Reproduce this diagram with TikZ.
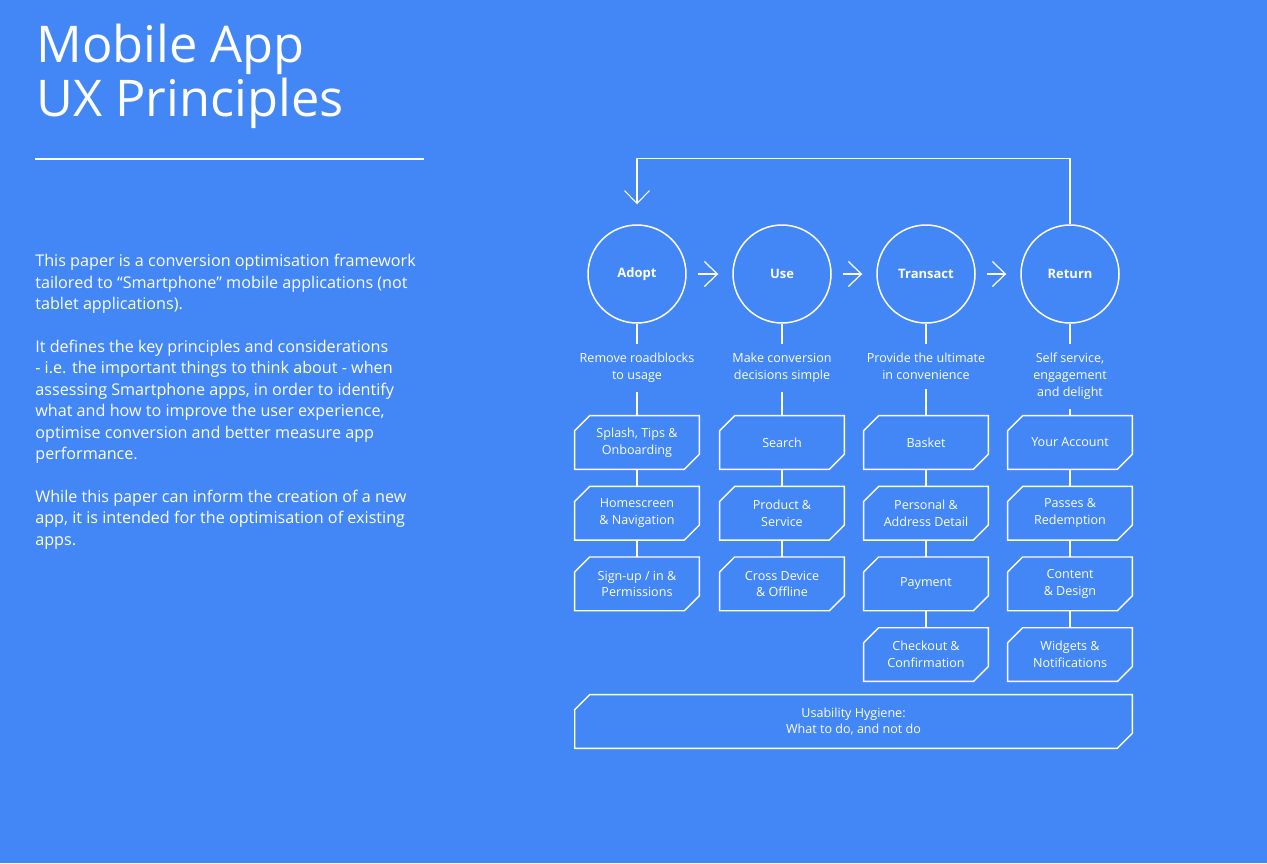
\documentclass[tikz,border=0pt]{standalone}
\usepackage{fontspec}
\setmainfont{Open Sans}
\usetikzlibrary{arrows.meta,positioning}
\definecolor{bgblue}{HTML}{4287F5}

\begin{document}
\begin{tikzpicture}[x=0.02cm,y=-0.02cm,>={Straight Barb[length=0.26cm,width=0.5cm]},
  every node/.style={text=white},
  phase/.style={circle,draw=white,line width=0.85pt,minimum size=1.96cm,inner sep=0pt,
    font=\fontsize{7.4}{9}\selectfont\bfseries},
  goal/.style={align=center,inner sep=0.18cm,font=\fontsize{7.15}{9.6}\selectfont},
  % box with the top left and bottom right corners cut off
  tagbox/.style={rectangle,minimum width=2.48cm,minimum height=1.06cm,inner sep=0pt,
    align=center,font=\fontsize{7.15}{9.6}\selectfont,
    append after command={\pgfextra{\draw[white,line width=0.8pt]
      ([yshift=-0.3cm]\tikzlastnode.north west) -- ([xshift=0.3cm]\tikzlastnode.north west)
      -- (\tikzlastnode.north east) -- ([yshift=0.3cm]\tikzlastnode.south east)
      -- ([xshift=-0.3cm]\tikzlastnode.south east) -- (\tikzlastnode.south west) -- cycle;}}},
  wire/.style={draw=white,line width=0.6pt},
  flow/.style={->,white,line width=0.7pt,shorten <=0.22cm,shorten >=0.28cm}]
  \fill[bgblue] (0,0) rectangle (1267,863);
  \useasboundingbox (0,0) rectangle (1267,863);

  % title and intro text
  \node[anchor=north west,inner sep=0pt,align=left,font=\fontsize{28.8}{30.6}\selectfont]
    (title) at (36,24) {Mobile App\\UX Principles};
  \draw[white,line width=1.1pt] (35,159) -- (424,159);
  \node[anchor=north west,inner sep=0pt,align=left,font=\fontsize{9.2}{12.2}\selectfont]
    (intro) at (35,254) {This paper is a conversion optimisation framework\\
    tailored to “Smartphone” mobile applications (not\\
    tablet applications).\\[12.2pt]
    It defines the key principles and considerations\\
    - i.e. the important things to think about - when\\
    assessing Smartphone apps, in order to identify\\
    what and how to improve the user experience,\\
    optimise conversion and better measure app\\
    performance.\\[12.2pt]
    While this paper can inform the creation of a new\\
    app, it is intended for the optimisation of existing\\
    apps.};

  % phases
  \node[phase] (adopt) at (637,274) {Adopt};
  \node[phase] (use) at (782,274) {Use};
  \node[phase] (transact) at (926,274) {Transact};
  \node[phase] (return) at (1070,274) {Return};
  \draw[flow] (adopt) -- (use);
  \draw[flow] (use) -- (transact);
  \draw[flow] (transact) -- (return);
  % back to adopt
  \draw[->,white,line width=0.6pt,shorten >=0.4cm] (return.north) -- ++(0,-66) -| (adopt.north);

  % goals
  \node[goal,below=0.4cm of adopt] (adoptgoal) {Remove roadblocks\\to usage};
  \node[goal,below=0.4cm of use] (usegoal) {Make conversion\\decisions simple};
  \node[goal,below=0.4cm of transact] (transactgoal) {Provide the ultimate\\in convenience};
  \node[goal,below=0.4cm of return] (returngoal) {Self service,\\engagement\\and delight};

  % adopt column
  \node[tagbox] (splash) at (637,442.5) {Splash, Tips \&\\Onboarding};
  \node[tagbox,below=0.34cm of splash] (home) {Homescreen\\\& Navigation};
  \node[tagbox,below=0.34cm of home] (signup) {Sign-up / in \&\\Permissions};
  % use column
  \node[tagbox] (search) at (782,442.5) {Search};
  \node[tagbox,below=0.34cm of search] (product) {Product \&\\Service};
  \node[tagbox,below=0.34cm of product] (crossdev) {Cross Device\\\& Offline};
  % transact column
  \node[tagbox] (basket) at (926,442.5) {Basket};
  \node[tagbox,below=0.34cm of basket] (address) {Personal \&\\Address Detail};
  \node[tagbox,below=0.34cm of address] (payment) {Payment};
  \node[tagbox,below=0.34cm of payment] (checkout) {Checkout \&\\Confirmation};
  % return column
  \node[tagbox] (account) at (1070,442.5) {Your Account};
  \node[tagbox,below=0.34cm of account] (passes) {Passes \&\\Redemption};
  \node[tagbox,below=0.34cm of passes] (content) {Content\\\& Design};
  \node[tagbox,below=0.34cm of content] (widgets) {Widgets \&\\Notifications};

  \node[tagbox,minimum width=11.14cm] (hygiene) at (853.5,721.5)
    {Usability Hygiene:\\What to do, and not do};

  % vertical wires
  \draw[wire] (adopt) -- (adoptgoal) (adoptgoal) -- (splash) (splash) -- (home) (home) -- (signup);
  \draw[wire] (use) -- (usegoal) (usegoal) -- (search) (search) -- (product) (product) -- (crossdev);
  \draw[wire] (transact) -- (transactgoal) (transactgoal) -- (basket) (basket) -- (address)
    (address) -- (payment) (payment) -- (checkout);
  \draw[wire] (return) -- (returngoal) (returngoal) -- (account) (account) -- (passes)
    (passes) -- (content) (content) -- (widgets);
\end{tikzpicture}
\end{document}
